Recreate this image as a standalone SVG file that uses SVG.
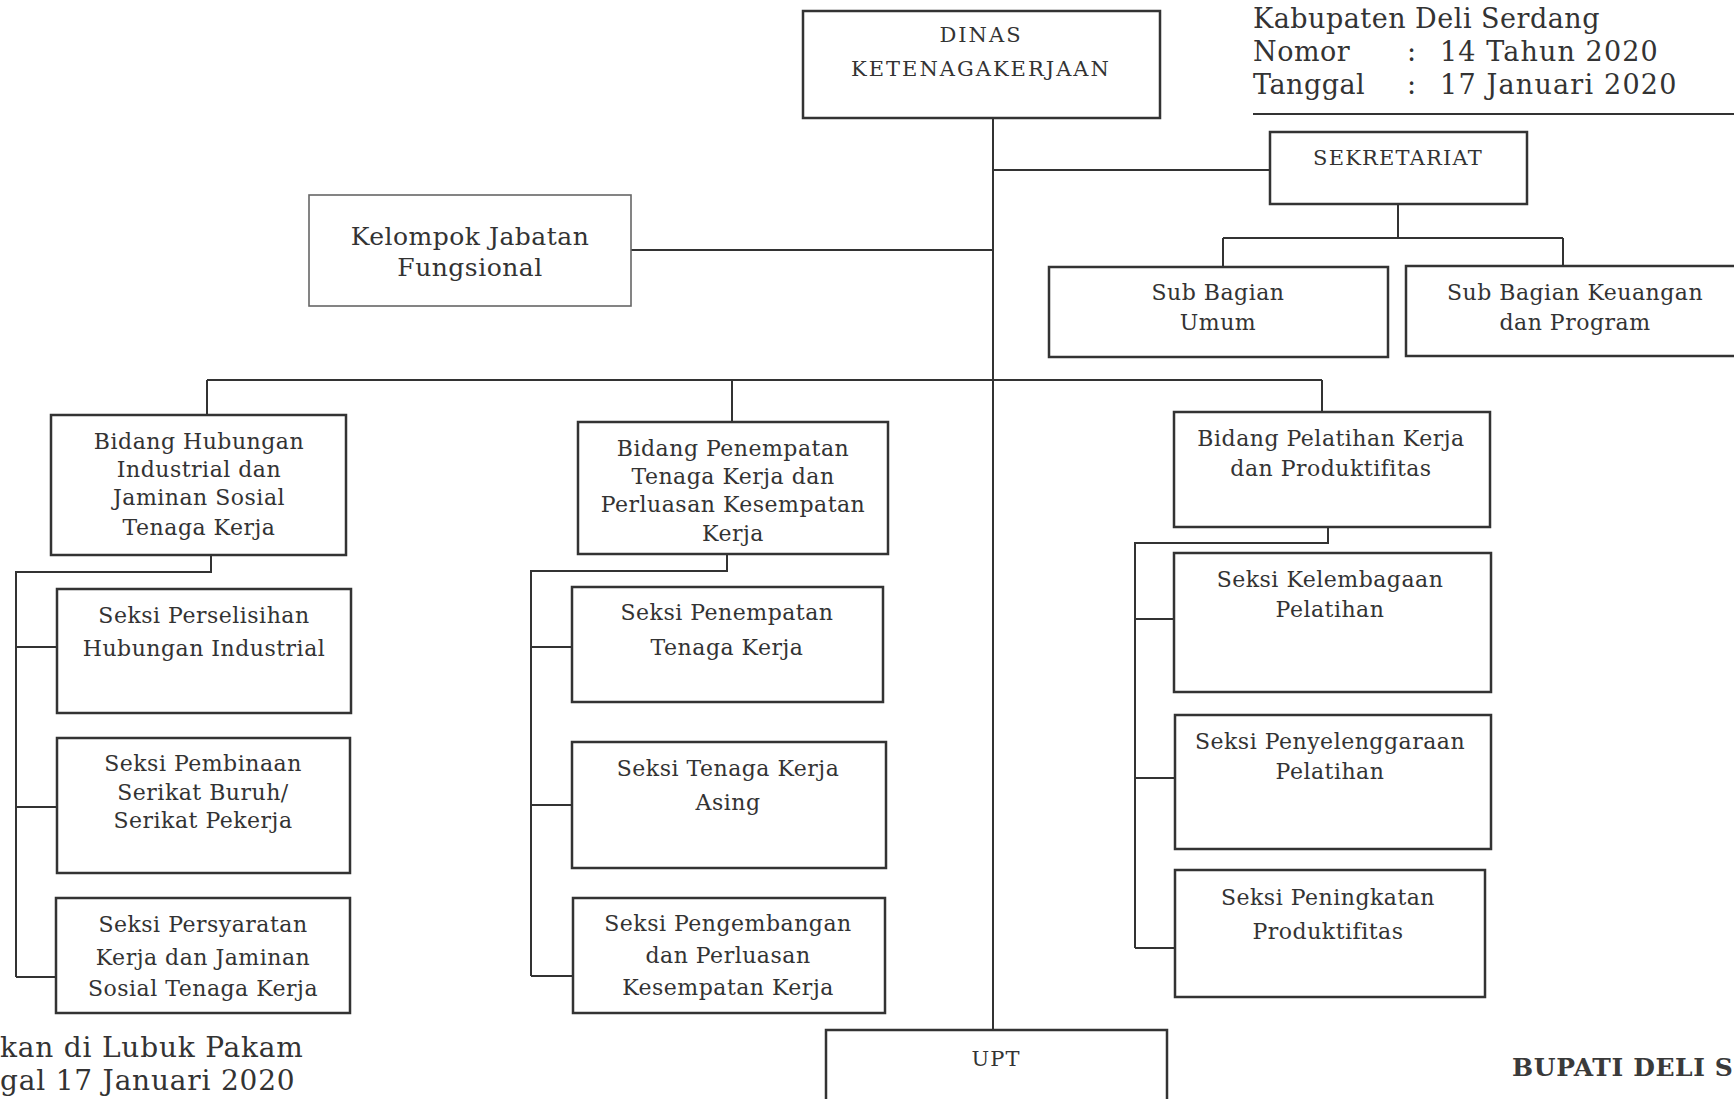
<svg xmlns="http://www.w3.org/2000/svg" width="1734" height="1099" viewBox="0 0 1734 1099">
<style>
.bg{fill:#fff}
.box{fill:#fff;stroke:#333;stroke-width:2.5}
.box2{fill:#fff;stroke:#666;stroke-width:1.6}
.ln{fill:none;stroke:#333;stroke-width:2}
.t{font-family:"DejaVu Serif",serif;font-size:22px;fill:#333;text-anchor:middle;letter-spacing:0.5px}
.cap{font-family:"DejaVu Serif",serif;font-size:21px;fill:#333;text-anchor:middle;letter-spacing:2px}
.hd{font-family:"DejaVu Serif",serif;font-size:27px;fill:#333;letter-spacing:0.5px}
.bd{font-family:"DejaVu Serif",serif;font-size:25px;font-weight:bold;fill:#3a3a3a;letter-spacing:0.6px}
</style>
<rect class="bg" x="0" y="0" width="1734" height="1099"/>

<g id="header">
<text class="hd" x="1253" y="28">Kabupaten Deli Serdang</text>
<text class="hd" x="1253" y="61">Nomor</text>
<text class="hd" x="1407" y="61">:</text>
<text class="hd" x="1440" y="61" style="letter-spacing:1.1px">14 Tahun 2020</text>
<text class="hd" x="1253" y="94">Tanggal</text>
<text class="hd" x="1407" y="94">:</text>
<text class="hd" x="1440" y="94" style="letter-spacing:1.2px">17 Januari 2020</text>
<path class="ln" d="M1253 114 H1734"/>
</g>

<g id="connectors">
<path class="ln" d="M993 118 V1030"/>
<path class="ln" d="M993 170 H1270"/>
<path class="ln" d="M1398 204 V238 M1223 238 H1563 M1223 238 V267 M1563 238 V266"/>
<path class="ln" d="M631 250 H993"/>
<path class="ln" d="M207 380 H1322 M207 380 V415 M732 380 V422 M1322 380 V412"/>
<path class="ln" d="M211 555 V572 H16 V977 M16 647 H57 M16 807 H57 M16 977 H56"/>
<path class="ln" d="M727 554 V571 H531 V976 M531 647 H572 M531 805 H572 M531 976 H573"/>
<path class="ln" d="M1328 527 V543 H1135 V948 M1135 619 H1174 M1135 778 H1175 M1135 948 H1175"/>
</g>

<g id="dinas">
<rect class="box" x="803" y="11" width="357" height="107"/>
<text class="cap" x="981" y="42">DINAS</text>
<text class="cap" x="981" y="76">KETENAGAKERJAAN</text>
</g>

<g id="sekretariat">
<rect class="box" x="1270" y="132" width="257" height="72"/>
<text class="cap" x="1398" y="165" style="letter-spacing:1.2px">SEKRETARIAT</text>
</g>

<g id="sub-umum">
<rect class="box" x="1049" y="267" width="339" height="90"/>
<text class="t" x="1218" y="300">Sub Bagian</text>
<text class="t" x="1218" y="330">Umum</text>
</g>

<g id="sub-keuangan">
<rect class="box" x="1406" y="266" width="340" height="90"/>
<text class="t" x="1575" y="300">Sub Bagian Keuangan</text>
<text class="t" x="1575" y="330">dan Program</text>
</g>

<g id="kelompok">
<rect class="box2" x="309" y="195" width="322" height="111"/>
<text class="t" x="470" y="245" style="font-size:25px">Kelompok Jabatan</text>
<text class="t" x="470" y="276" style="font-size:25px">Fungsional</text>
</g>

<g id="bidang-hubungan">
<rect class="box" x="51" y="415" width="295" height="140"/>
<text class="t" x="199" y="449">Bidang Hubungan</text>
<text class="t" x="199" y="477">Industrial dan</text>
<text class="t" x="199" y="505">Jaminan Sosial</text>
<text class="t" x="199" y="535">Tenaga Kerja</text>
</g>

<g id="seksi-perselisihan">
<rect class="box" x="57" y="589" width="294" height="124"/>
<text class="t" x="204" y="623">Seksi Perselisihan</text>
<text class="t" x="204" y="656">Hubungan Industrial</text>
</g>

<g id="seksi-pembinaan">
<rect class="box" x="57" y="738" width="293" height="135"/>
<text class="t" x="203" y="771">Seksi Pembinaan</text>
<text class="t" x="203" y="800">Serikat Buruh/</text>
<text class="t" x="203" y="828">Serikat Pekerja</text>
</g>

<g id="seksi-persyaratan">
<rect class="box" x="56" y="898" width="294" height="115"/>
<text class="t" x="203" y="932">Seksi Persyaratan</text>
<text class="t" x="203" y="965">Kerja dan Jaminan</text>
<text class="t" x="203" y="996">Sosial Tenaga Kerja</text>
</g>

<g id="bidang-penempatan">
<rect class="box" x="578" y="422" width="310" height="132"/>
<text class="t" x="733" y="456">Bidang Penempatan</text>
<text class="t" x="733" y="484">Tenaga Kerja dan</text>
<text class="t" x="733" y="512">Perluasan Kesempatan</text>
<text class="t" x="733" y="541">Kerja</text>
</g>

<g id="seksi-penempatan">
<rect class="box" x="572" y="587" width="311" height="115"/>
<text class="t" x="727" y="620">Seksi Penempatan</text>
<text class="t" x="727" y="655">Tenaga Kerja</text>
</g>

<g id="seksi-tka">
<rect class="box" x="572" y="742" width="314" height="126"/>
<text class="t" x="728" y="776">Seksi Tenaga Kerja</text>
<text class="t" x="728" y="810">Asing</text>
</g>

<g id="seksi-pengembangan">
<rect class="box" x="573" y="898" width="312" height="115"/>
<text class="t" x="728" y="931">Seksi Pengembangan</text>
<text class="t" x="728" y="963">dan Perluasan</text>
<text class="t" x="728" y="995">Kesempatan Kerja</text>
</g>

<g id="bidang-pelatihan">
<rect class="box" x="1174" y="412" width="316" height="115"/>
<text class="t" x="1331" y="446">Bidang Pelatihan Kerja</text>
<text class="t" x="1331" y="476">dan Produktifitas</text>
</g>

<g id="seksi-kelembagaan">
<rect class="box" x="1174" y="553" width="317" height="139"/>
<text class="t" x="1330" y="587">Seksi Kelembagaan</text>
<text class="t" x="1330" y="617">Pelatihan</text>
</g>

<g id="seksi-penyelenggaraan">
<rect class="box" x="1175" y="715" width="316" height="134"/>
<text class="t" x="1330" y="749">Seksi Penyelenggaraan</text>
<text class="t" x="1330" y="779">Pelatihan</text>
</g>

<g id="seksi-peningkatan">
<rect class="box" x="1175" y="870" width="310" height="127"/>
<text class="t" x="1328" y="905">Seksi Peningkatan</text>
<text class="t" x="1328" y="939">Produktifitas</text>
</g>

<g id="upt">
<rect class="box" x="826" y="1030" width="341" height="90"/>
<text class="cap" x="996" y="1066" style="letter-spacing:1px">UPT</text>
</g>

<g id="footer">
<text class="hd" x="0" y="1057" style="font-size:28px;letter-spacing:0.8px">kan di Lubuk Pakam</text>
<text class="hd" x="0" y="1090" style="font-size:28px;letter-spacing:0.8px">gal 17 Januari 2020</text>
<text class="bd" x="1512" y="1076">BUPATI DELI S</text>
</g>
</svg>
